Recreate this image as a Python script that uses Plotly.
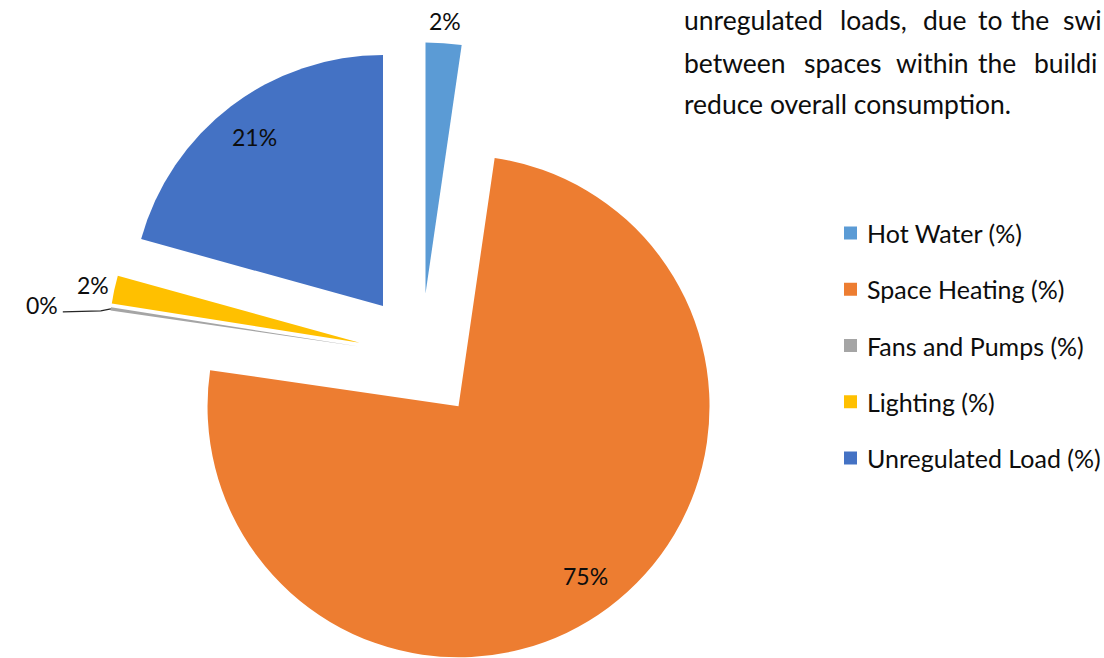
import math
import plotly.graph_objects as go

# Energy-use breakdown shares (%)
categories = ["Hot Water (%)", "Space Heating (%)", "Fans and Pumps (%)",
              "Lighting (%)", "Unregulated Load (%)"]
shares = [2.3, 75.0, 0.2, 1.8, 20.7]
colors = ["#5B9BD5", "#ED7D31", "#A5A5A5", "#FFC000", "#4472C4"]

# Paragraph text shown beside the chart (justified lines, one entry per word)
para_line1 = ["unregulated", "loads,", "due", "to", "the", "swi"]
para_line1_x = [683, 839, 922, 977, 1010, 1062]
para_line2 = ["between", "spaces", "within", "the", "buildi"]
para_line2_x = [683, 803, 895, 977, 1033]
para_line3 = "reduce overall consumption."

W, H = 1104, 658
CX, CY = 421, 356          # pie centre (px) before slices are pulled out
R = 251                    # pie radius (px)
EXPLODE = 0.25             # pull-out distance as a fraction of the radius
FONT = "Lato"
FS_LABEL = 23
FS_LEGEND = 25
FS_PARA = 26.5
TXT = "#0d0d0d"


def fx(x):
    return x / W


def fy(y):
    return 1 - y / H


fig = go.Figure()
annotations = []
shapes = []

total = sum(shares)
cum = 0.0
n = len(shares)
for i, (name, v, col) in enumerate(zip(categories, shares, colors)):
    mid_deg = (cum + v / 2) / total * 360.0
    cum += v
    a = math.radians(mid_deg)
    ux, uy = math.sin(a), -math.cos(a)
    # apex of this slice after it is pulled out along its bisector
    vx = CX + EXPLODE * R * ux
    vy = CY + EXPLODE * R * uy

    slice_colors = [col if j == i else "rgba(0,0,0,0)" for j in range(n)]
    fig.add_trace(go.Pie(
        values=shares,
        labels=categories,
        sort=False,
        direction="clockwise",
        rotation=0,
        marker=dict(colors=slice_colors, line=dict(width=0)),
        textinfo="none",
        hoverinfo="skip",
        showlegend=False,
        domain=dict(x=[fx(vx - R), fx(vx + R)],
                    y=[max(0.0, fy(vy + R)), min(1.0, fy(vy - R))]),
    ))

    pct = round(v / total * 100)
    label = f"{pct}%"
    lab_font = dict(family=FONT, size=FS_LABEL, color=TXT)
    if v / total >= 0.10:
        lx, ly = vx + 0.845 * R * ux, vy + 0.845 * R * uy
        annotations.append(dict(x=fx(lx), y=fy(ly), xref="paper", yref="paper",
                                text=label, showarrow=False, font=lab_font,
                                xanchor="center", yanchor="middle"))
    elif pct >= 1:
        lx, ly = vx + (R + 22) * ux, vy + (R + 22) * uy
        annotations.append(dict(x=fx(lx), y=fy(ly), xref="paper", yref="paper",
                                text=label, showarrow=False, font=lab_font,
                                xanchor="center", yanchor="middle"))
    else:
        # tiny slice: label moved aside with a leader line
        ox, oy = vx + R * ux, vy + R * uy
        shapes.append(dict(type="path", xref="paper", yref="paper",
                           path=(f"M {fx(ox)} {fy(oy)} L {fx(ox - 10)} {fy(oy + 2)} "
                                 f"L {fx(ox - 48)} {fy(oy + 3)}"),
                           line=dict(color="#262626", width=1.2)))
        annotations.append(dict(x=fx(ox - 51), y=fy(oy - 4), xref="paper", yref="paper",
                                text=label, showarrow=False, font=lab_font,
                                xanchor="right", yanchor="middle"))

# Legend drawn as square swatches with labels
LEG_X, LEG_Y0, LEG_DY, SW = 844, 233, 56.25, 13
for i, (name, col) in enumerate(zip(categories, colors)):
    yc = LEG_Y0 + i * LEG_DY
    shapes.append(dict(type="rect", xref="paper", yref="paper",
                       x0=fx(LEG_X), x1=fx(LEG_X + SW),
                       y0=fy(yc + SW / 2), y1=fy(yc - SW / 2),
                       fillcolor=col, line=dict(width=0)))
    annotations.append(dict(x=fx(LEG_X + 21), y=fy(yc), xref="paper", yref="paper",
                            text=name, showarrow=False,
                            font=dict(family=FONT, size=FS_LEGEND, color=TXT),
                            xanchor="left", yanchor="middle"))

# Paragraph text
para_font = dict(family=FONT, size=FS_PARA, color=TXT)
for words, xs, yc in ((para_line1, para_line1_x, 20), (para_line2, para_line2_x, 63)):
    for w, x in zip(words, xs):
        annotations.append(dict(x=fx(x), y=fy(yc), xref="paper", yref="paper",
                                text=w, showarrow=False, font=para_font,
                                borderpad=0,
                                xanchor="left", yanchor="middle"))
annotations.append(dict(x=fx(683), y=fy(104), xref="paper", yref="paper",
                        text=para_line3, showarrow=False, font=para_font,
                        borderpad=0,
                        xanchor="left", yanchor="middle"))

fig.update_layout(
    width=W, height=H,
    margin=dict(l=0, r=0, t=0, b=0),
    paper_bgcolor="white",
    plot_bgcolor="white",
    showlegend=False,
    annotations=annotations,
    shapes=shapes,
)

fig.write_html("out.html")
